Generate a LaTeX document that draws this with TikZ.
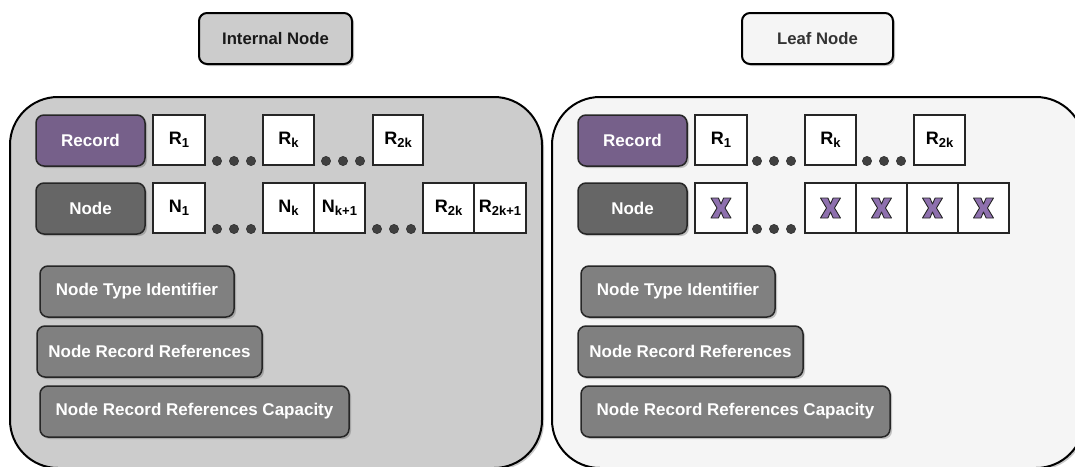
\documentclass[tikz,border=0pt]{standalone}
\usepackage{fontspec}
\setmainfont{Liberation Sans}
\usetikzlibrary{shadows}

\definecolor{panelgrey}{HTML}{CCCCCC}
\definecolor{panelwhite}{HTML}{F5F5F5}
\definecolor{recpurple}{HTML}{76608A}
\definecolor{xpurple}{HTML}{8E70AE}
\definecolor{nodedark}{HTML}{666666}
\definecolor{fieldgrey}{HTML}{808080}
\definecolor{dotgrey}{HTML}{404040}

% lowered index in a cell label
\newcommand\idx[1]{\raisebox{-2.5pt}{\fontsize{13}{13}\selectfont #1}}

% \place[style]{name}{x1}{y1}{x2}{y2}{text}: node filling the box (x1,y1)-(x2,y2)
\newcommand\place[7][]{%
  \node[#1, minimum width={#5-#3}, minimum height={#6-#4}]
    (#2) at ({(#3+#5)/2},{(#4+#6)/2}) {#7};}

\tikzset{
  shade/.style={drop shadow={shadow xshift=2pt, shadow yshift=-2pt,
      opacity=0.3, fill=black!70}},
  base/.style={inner sep=0pt, outer sep=0pt, align=center},
  panel/.style={base, draw=black, line width=2pt, rounded corners=48pt, shade},
  header/.style={base, draw=black, line width=2pt, rounded corners=8pt, shade,
      font=\fontsize{16.7}{18}\selectfont\bfseries},
  label/.style={base, draw=black!85, line width=1.5pt, rounded corners=8pt, shade,
      text=white, font=\fontsize{17}{18}\selectfont\bfseries},
  recordlbl/.style={label, fill=recpurple},
  nodelbl/.style={label, fill=nodedark},
  field/.style={label, fill=fieldgrey},
  cell/.style={base, draw=black!85, line width=1.2pt, fill=white,
      font=\fontsize{18}{18}\selectfont\bfseries},
  gap/.style={fill=dotgrey, draw=black!80, line width=0.6pt},
  xmark/.pic={
    \filldraw[fill=xpurple, draw=black!85, line width=0.9pt, line join=round]
      (-10,-10) -- (-2.6,-10) -- (0,-4) -- (2.6,-10) -- (10,-10) -- (4,0)
      -- (10,10) -- (2.6,10) -- (0,4) -- (-2.6,10) -- (-10,10) -- (-4,0) -- cycle;
  },
}

\begin{document}
\begin{tikzpicture}[x=1pt,y=-1pt]
\useasboundingbox (0,0) rectangle (1075,466);
\clip (0,0) rectangle (1075,466);

% ---------------- internal node ----------------
\place[header, fill=panelgrey, text=black!90]{hdrI}{199}{13}{352}{64}{Internal Node}
\place[panel, fill=panelgrey]{panelI}{10}{97}{542}{468}{}

\place[recordlbl]{recI}{36}{115}{145}{166}{Record}
\place[nodelbl]{nodI}{36}{183}{145}{234}{Node}

\place[cell]{rIa}{153}{115}{205}{165}{R\idx{1}}
\place[cell]{rIb}{263}{115}{314}{165}{R\idx{k}}
\place[cell]{rIc}{373}{115}{423}{165}{R\idx{2k}}

\place[cell]{nIa}{153}{183}{205}{233}{N\idx{1}}
\place[cell]{nIb}{263}{183}{314}{233}{N\idx{k}}
\place[cell]{nIc}{314}{183}{365}{233}{N\idx{k+1}}
\place[cell]{nId}{423}{183}{474}{233}{R\idx{2k}}
\place[cell]{nIe}{474}{183}{526}{233}{R\idx{2k+1}}

\foreach \x in {217,234,251,326,343,360}
  \filldraw[gap] (\x,161) circle[radius=4.6pt];
\foreach \x in {217,234,251,377,394,411}
  \filldraw[gap] (\x,229) circle[radius=4.6pt];

\place[field]{typI}{40}{266}{234}{317}{Node Type Identifier}
\place[field]{refI}{37}{326}{262}{377}{Node Record References}
\place[field]{capI}{40}{386}{349}{437}{Node Record References Capacity}

% ---------------- leaf node ----------------
\place[header, fill=panelwhite, text=black!80]{hdrL}{742}{13}{893}{64}{Leaf Node}
\place[panel, fill=panelwhite]{panelL}{552}{97}{1084}{468}{}

\place[recordlbl]{recL}{578}{115}{687}{166}{Record}
\place[nodelbl]{nodL}{578}{183}{687}{234}{Node}

\place[cell]{rLa}{695}{115}{747}{165}{R\idx{1}}
\place[cell]{rLb}{805}{115}{856}{165}{R\idx{k}}
\place[cell]{rLc}{914}{115}{965}{165}{R\idx{2k}}

\place[cell]{xLa}{695}{183}{747}{233}{}
\place[cell]{xLb}{805}{183}{856}{233}{}
\place[cell]{xLc}{856}{183}{907}{233}{}
\place[cell]{xLd}{907}{183}{958}{233}{}
\place[cell]{xLe}{958}{183}{1009}{233}{}
\foreach \c in {xLa,xLb,xLc,xLd,xLe}
  \pic at (\c) {xmark};

\foreach \x in {757,774,791,867,884,901}
  \filldraw[gap] (\x,161) circle[radius=4.6pt];
\foreach \x in {757,774,791}
  \filldraw[gap] (\x,229) circle[radius=4.6pt];

\place[field]{typL}{581}{266}{775}{317}{Node Type Identifier}
\place[field]{refL}{578}{326}{803}{377}{Node Record References}
\place[field]{capL}{581}{386}{890}{437}{Node Record References Capacity}
\end{tikzpicture}
\end{document}
